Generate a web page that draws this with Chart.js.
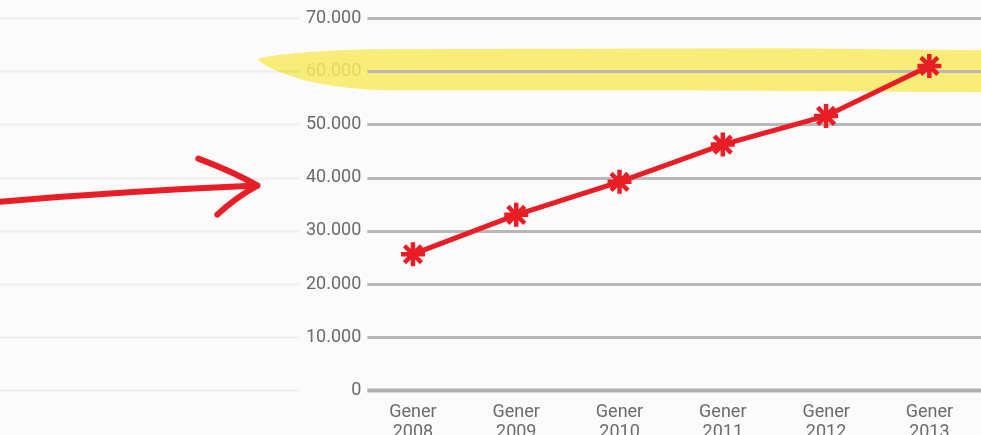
<!DOCTYPE html>
<html>
<head>
<meta charset="utf-8">
<script src="https://cdn.jsdelivr.net/npm/chart.js@4"></script>
<style>
  html, body { margin: 0; padding: 0; overflow: hidden; background: #fbfbfb; }
  #wrap { width: 981px; height: 454px; position: relative; }
</style>
</head>
<body>
<div id="wrap"><canvas id="chart"></canvas></div>
<script>
const years = ["2008", "2009", "2010", "2011", "2012", "2013"];
const monthLabel = "Gener";
const values = [25600, 33000, 39200, 46200, 51600, 61000];
const yTicks = [0, 10000, 20000, 30000, 40000, 50000, 60000, 70000];
const highlightValue = 60000;
const arrowValue = 38500;

const RED = "#e91d25";

function formatThousands(value) {
  if (value === 0) return "0";
  const s = String(Math.round(value));
  return s.replace(/\B(?=(\d{3})+(?!\d))/g, ".");
}

// paper lines, yellow marker band and grid lines, drawn under the data
const backdrop = {
  id: "backdrop",
  beforeDatasetsDraw(chart) {
    const { ctx, chartArea, scales } = chart;
    const y = scales.y;
    const w = chart.width;
    ctx.save();

    // yellow highlighter stroke around the 60.000 line
    const cy = y.getPixelForValue(highlightValue);
    const tipX = chartArea.left - 104;
    ctx.fillStyle = "rgba(246, 234, 96, 0.85)";
    ctx.beginPath();
    ctx.moveTo(tipX, cy - 12);
    ctx.quadraticCurveTo(tipX + 20, cy - 19, tipX + 110, cy - 22);
    ctx.lineTo(w - 200, cy - 23);
    ctx.lineTo(w, cy - 21);
    ctx.lineTo(w, cy + 21);
    ctx.lineTo(w - 300, cy + 19);
    ctx.lineTo(tipX + 130, cy + 19);
    ctx.quadraticCurveTo(tipX + 50, cy + 17, tipX + 8, cy - 6);
    ctx.closePath();
    ctx.fill();

    yTicks.forEach((v) => {
      const py = Math.round(y.getPixelForValue(v)) + 0.5;
      // faint paper line on the left
      ctx.strokeStyle = "rgba(0, 0, 0, 0.055)";
      ctx.lineWidth = 2;
      ctx.beginPath();
      ctx.moveTo(0, py);
      ctx.lineTo(chartArea.left - 62, py);
      ctx.stroke();
      // chart grid line
      ctx.strokeStyle = v === 0 ? "#b0b0b0" : "#b8b8b8";
      ctx.lineWidth = v === 0 ? 4 : 3;
      ctx.beginPath();
      ctx.moveTo(chartArea.left + 6, py);
      ctx.lineTo(w, py);
      ctx.stroke();
    });
    ctx.restore();
  },
};

// hand-drawn red arrow pointing at the axis
const arrow = {
  id: "arrow",
  afterDraw(chart) {
    const { ctx, chartArea, scales } = chart;
    const tx = chartArea.left - 104;
    const ty = scales.y.getPixelForValue(arrowValue);
    ctx.save();
    ctx.strokeStyle = RED;
    ctx.lineWidth = 6;
    ctx.lineCap = "round";
    ctx.lineJoin = "round";
    ctx.beginPath();
    ctx.moveTo(-10, ty + 17);
    ctx.quadraticCurveTo(tx - 140, ty + 6, tx, ty);
    ctx.stroke();
    ctx.beginPath();
    ctx.moveTo(tx - 59, ty - 27);
    ctx.quadraticCurveTo(tx - 20, ty - 12, tx, ty);
    ctx.quadraticCurveTo(tx - 22, ty + 12, tx - 40, ty + 29);
    ctx.stroke();
    ctx.restore();
  },
};

new Chart(document.getElementById("chart"), {
  type: "line",
  data: {
    labels: years.map((yr) => [monthLabel, yr]),
    datasets: [
      {
        data: values,
        borderColor: RED,
        borderWidth: 5,
        tension: 0,
        pointStyle: "star",
        pointRadius: 12,
        pointBorderWidth: 4.5,
        pointBorderColor: RED,
        pointBackgroundColor: RED,
        clip: false,
      },
    ],
  },
  options: {
    responsive: true,
    maintainAspectRatio: false,
    animation: false,
    layout: { autoPadding: false, padding: { top: 18, left: 306, right: 0, bottom: 0 } },
    plugins: {
      legend: { display: false },
      tooltip: { enabled: false },
    },
    scales: {
      x: {
        offset: true,
        grid: { display: false, drawTicks: false },
        border: { display: false },
        ticks: {
          color: "#6b6b6b",
          padding: 12,
          maxRotation: 0,
          font: { family: "Roboto, 'Liberation Sans', sans-serif", size: 18, weight: 400, lineHeight: 1.1 },
        },
      },
      y: {
        min: 0,
        max: 70000,
        afterBuildTicks(scale) {
          scale.ticks = yTicks.map((v) => ({ value: v }));
        },
        grid: { display: false, drawTicks: false },
        border: { display: false },
        ticks: {
          color: "#6b6b6b",
          padding: 0,
          callback: (value) => formatThousands(value),
          font: { family: "Roboto, 'Liberation Sans', sans-serif", size: 18, weight: 400 },
        },
      },
    },
  },
  plugins: [backdrop, arrow],
});
</script>
</body>
</html>
